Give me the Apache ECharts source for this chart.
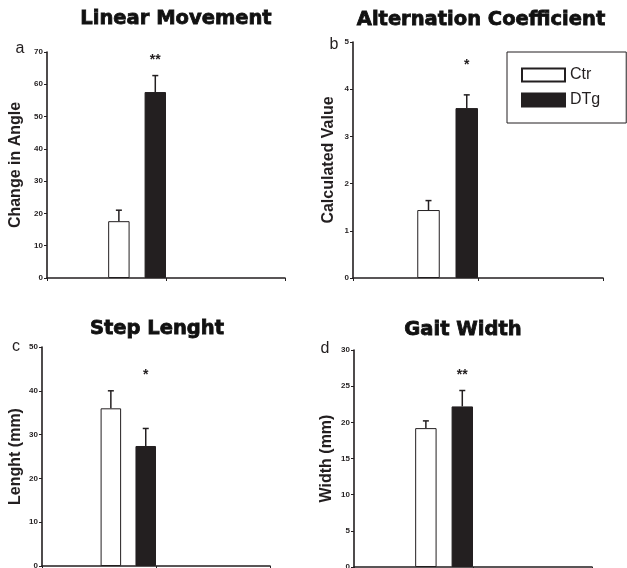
<!DOCTYPE html>
<html>
<head>
<meta charset="utf-8">
<script src="https://cdn.jsdelivr.net/npm/echarts@6/dist/echarts.min.js"></script>
<style>
  html, body { margin: 0; padding: 0; background: #fff; }
  #chart { width: 627px; height: 568px; }
</style>
</head>
<body>
<div id="chart"></div>
<script>
// data (mean + SEM, one entry per panel a..d)
const groups = ['Ctr', 'DTg']
const panelTitles = ['Linear Movement', 'Alternation Coefficient', 'Step Lenght', 'Gait Width']
const panelLetters = ['a', 'b', 'c', 'd']
const yNames = ['Change in Angle', 'Calculated Value', 'Lenght (mm)', 'Width (mm)']
const yMax = [70, 5, 50, 30]
const yStep = [10, 1, 10, 5]
const ctrMean = [17.6, 1.44, 36.0, 19.2]
const ctrSem = [3.4, 0.2, 4.0, 1.0]
const dtgMean = [57.6, 3.6, 27.4, 22.2]
const dtgSem = [5.1, 0.28, 4.0, 2.2]
const stars = ['**', '*', '*', '**']
const starAt = [68.4, 4.58, 44.2, 26.9]

const INK = '#231f20'
const BAR_W = 18 // % of the category band
const GAP = 0.7
// invisible first column pushes the two bars to the right end of the band (as in the excel original)
const padW = (100 - BAR_W * (2 + GAP)) / (1 + GAP)
const ctrCenter = (padW * (1 + GAP) + BAR_W / 2) / 100
const dtgCenter = (100 - BAR_W / 2) / 100

const grids = [
  { left: 47, top: 52, width: 238, height: 226 },
  { left: 353, top: 42, width: 250, height: 236 },
  { left: 42, top: 347, width: 228, height: 219 },
  { left: 354, top: 350, width: 238, height: 217 }
]
const nameGaps = [23, 16, 18, 19]
const titlePos = [[176, 19], [481, 20], [157, 329], [463, 330]]
const letterPos = [[20, 49], [334, 45], [16, 347], [325, 349]]

function renderErr(params, api) {
  const band = api.size([1, 0])[0]
  const base = api.coord([api.value(0), api.value(1)])
  const top = api.coord([api.value(0), api.value(1) + api.value(2)])
  const x = base[0] - band / 2 + band * (api.value(3) === 0 ? ctrCenter : dtgCenter)
  const st = { stroke: INK, lineWidth: 1.5 }
  return {
    type: 'group',
    children: [
      { type: 'line', shape: { x1: x, y1: base[1], x2: x, y2: top[1] }, style: st },
      { type: 'line', shape: { x1: x - 3, y1: top[1], x2: x + 3, y2: top[1] }, style: st }
    ]
  }
}

function makeStarRenderer(text) {
  return function (params, api) {
    const band = api.size([1, 0])[0]
    const p = api.coord([api.value(0), api.value(1)])
    return {
      type: 'text',
      style: {
        x: p[0] - band / 2 + band * dtgCenter,
        y: p[1] + 3,
        text: text,
        fill: INK,
        font: 'bold 14px "Liberation Sans", Arial, sans-serif',
        align: 'center',
        verticalAlign: 'middle'
      }
    }
  }
}

const xAxes = []
const yAxes = []
const series = []
const graphic = []

grids.forEach((g, i) => {
  g.outerBoundsMode = 'none'
  xAxes.push({
    type: 'category',
    gridIndex: i,
    data: ['', ''],
    axisLine: { lineStyle: { color: INK, width: 1.6 } },
    axisTick: { show: true, length: 3, lineStyle: { color: INK, width: 1 } },
    axisLabel: { show: false },
    splitLine: { show: false }
  })
  yAxes.push({
    type: 'value',
    gridIndex: i,
    min: 0,
    max: yMax[i],
    interval: yStep[i],
    splitLine: { show: false },
    axisLine: { show: true, lineStyle: { color: INK, width: 1.6 } },
    axisTick: { show: true, length: 3, lineStyle: { color: INK, width: 1 } },
    axisLabel: {
      margin: 4,
      fontSize: 8,
      fontWeight: 'bold',
      fontFamily: '"Liberation Sans Narrow", "Liberation Sans", Arial, sans-serif',
      color: INK
    },
    name: yNames[i],
    nameLocation: 'middle',
    nameGap: nameGaps[i],
    nameTextStyle: {
      fontSize: 16,
      fontWeight: 'bold',
      fontFamily: '"Liberation Sans", Arial, sans-serif',
      color: INK
    }
  })

  series.push({
    name: 'pad',
    type: 'bar',
    xAxisIndex: i,
    yAxisIndex: i,
    data: [null],
    barWidth: padW + '%',
    barGap: GAP * 100 + '%',
    silent: true,
    itemStyle: { color: 'transparent' }
  })
  series.push({
    name: groups[0],
    type: 'bar',
    xAxisIndex: i,
    yAxisIndex: i,
    data: [ctrMean[i]],
    barWidth: BAR_W + '%',
    barGap: GAP * 100 + '%',
    itemStyle: { color: '#ffffff', borderColor: INK, borderWidth: 1 }
  })
  series.push({
    name: groups[1],
    type: 'bar',
    xAxisIndex: i,
    yAxisIndex: i,
    data: [dtgMean[i]],
    barWidth: BAR_W + '%',
    barGap: GAP * 100 + '%',
    itemStyle: { color: INK, borderColor: INK, borderWidth: 1 }
  })
  series.push({
    type: 'custom',
    xAxisIndex: i,
    yAxisIndex: i,
    z: 5,
    silent: true,
    data: [[0, ctrMean[i], ctrSem[i], 0], [0, dtgMean[i], dtgSem[i], 1]],
    encode: { x: 0, y: 1 },
    renderItem: renderErr
  })
  series.push({
    type: 'custom',
    xAxisIndex: i,
    yAxisIndex: i,
    z: 5,
    silent: true,
    data: [[0, starAt[i]]],
    encode: { x: 0, y: 1 },
    renderItem: makeStarRenderer(stars[i])
  })

  // titles are set in a heavy face in the original, so add a thin stroke
  graphic.push({
    type: 'text',
    x: titlePos[i][0],
    y: titlePos[i][1],
    style: {
      text: panelTitles[i],
      fill: '#111',
      stroke: '#111',
      lineWidth: 0.8,
      font: 'bold 19.5px "DejaVu Sans", sans-serif',
      align: 'center',
      verticalAlign: 'middle'
    }
  })
  graphic.push({
    type: 'text',
    x: letterPos[i][0],
    y: letterPos[i][1],
    style: {
      text: panelLetters[i],
      fill: INK,
      font: '16px "Liberation Sans", Arial, sans-serif',
      align: 'center',
      verticalAlign: 'middle'
    }
  })
})

const chart = echarts.init(document.getElementById('chart'), null, { renderer: 'canvas' })
chart.setOption({
  animation: false,
  backgroundColor: '#ffffff',
  grid: grids,
  xAxis: xAxes,
  yAxis: yAxes,
  legend: {
    data: groups,
    orient: 'vertical',
    left: 507,
    top: 52,
    icon: 'rect',
    itemWidth: 43,
    itemHeight: 13,
    itemGap: 9,
    padding: [15, 26, 15, 14],
    borderColor: INK,
    borderWidth: 1,
    selectedMode: false,
    textStyle: { fontSize: 16, fontFamily: '"Liberation Sans", Arial, sans-serif', color: INK }
  },
  graphic: graphic,
  series: series
})
</script>
</body>
</html>
